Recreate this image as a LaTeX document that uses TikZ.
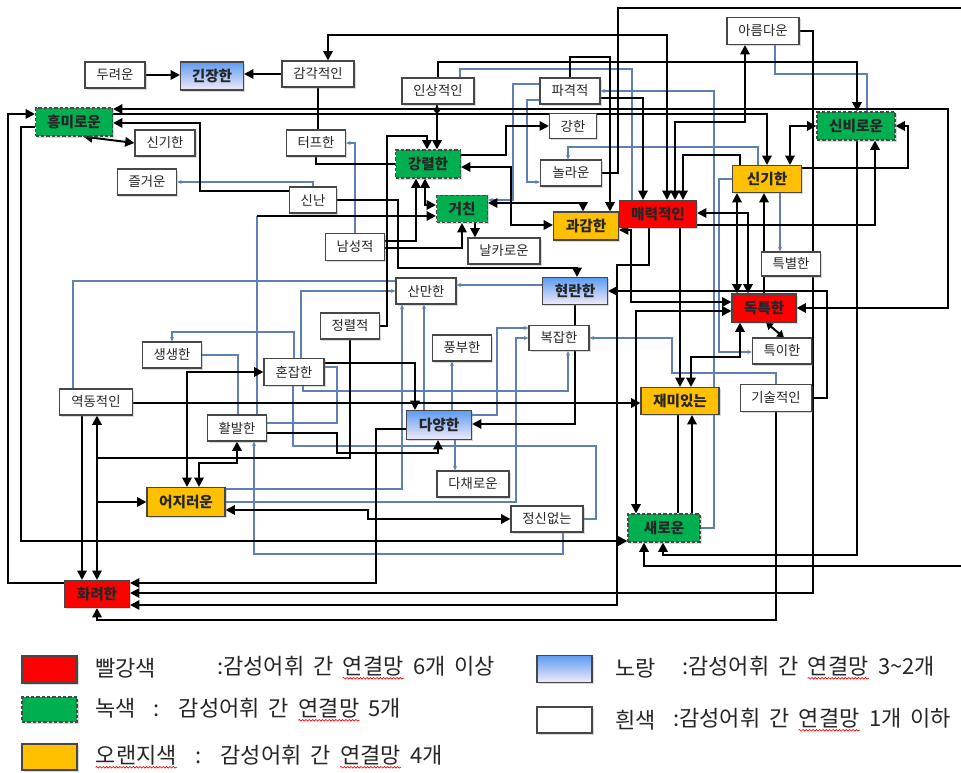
\documentclass[tikz,border=0pt]{standalone}
\usepackage{fontspec}
\setmainfont{Noto Sans CJK KR}
\newfontfamily\keyfont{Noto Sans CJK KR}[WordSpace=1.8]
\usetikzlibrary{arrows.meta,backgrounds,shadows,decorations.pathmorphing}
\definecolor{ink}{HTML}{262626}
\definecolor{hot}{HTML}{FF0000}
\definecolor{leaf}{HTML}{00B050}
\definecolor{amber}{HTML}{FFC000}
\definecolor{skytop}{HTML}{5C9CF2}
\definecolor{skybot}{HTML}{F3EAF8}
\definecolor{wire}{HTML}{5E80B4}
\tikzset{
  word/.style={
    draw=ink!85,
    line width=.8pt,
    minimum height=19.5pt,
    inner sep=1pt,
    text=ink,
    drop shadow={shadow xshift=1.3pt,shadow yshift=-1.3pt,opacity=.3}
  },
  bw/.style={minimum width=#1*0.75pt},
  bh/.style={minimum height=#1*0.75pt},
  plainword/.style={word,fill=white,font=\fontsize{10}{11}\selectfont},
  hotword/.style={word,fill=hot,font=\fontsize{11}{12}\selectfont\bfseries},
  leafword/.style={word,fill=leaf,dash pattern=on 2.5pt off 1.5pt,font=\fontsize{11}{12}\selectfont\bfseries},
  amberword/.style={word,fill=amber,font=\fontsize{11}{12}\selectfont\bfseries},
  skyword/.style={word,top color=skytop,bottom color=skybot,font=\fontsize{11}{12}\selectfont\bfseries},
  link/.style={line width=1.5pt,draw=black},
  forward/.style={link,-{Triangle[length=7pt,width=7pt]}},
  twoway/.style={link,{Triangle[length=7pt,width=7pt]}-{Triangle[length=7pt,width=7pt]}},
  twowayshort/.style={link,{Triangle[length=5pt,width=6pt]}-{Triangle[length=5pt,width=6pt]}},
  faint/.style={line width=.9pt,draw=wire},
  faintfwd/.style={faint,-{Stealth[length=3.5pt,width=3pt]}},
  joint/.style={circle,fill=black,inner sep=0pt,minimum size=4.5pt},
  keytext/.style={anchor=west,font=\keyfont\fontsize{16.5}{18}\selectfont,text=ink,inner sep=0pt}
}
\newcommand\typo[1]{\tikz[baseline=(typoword.base)]{\node[inner sep=0pt] (typoword) {#1};
  \draw[red,line width=.5pt,decorate,decoration={snake,amplitude=.6pt,segment length=2.5pt}]
    ([yshift=-2.5pt]typoword.base west) -- ([yshift=-2.5pt]typoword.base east);}}

\begin{document}
\begin{tikzpicture}[x=0.75pt,y=-0.75pt]
  \useasboundingbox (0,0) rectangle (961,773);

  \node[plainword,bw=60] (dooryeo) at (115,75) {두려운};
  \node[skyword,bw=63,bh=28] (ginjang) at (212,76) {긴장한};
  \node[plainword,bw=72] (gamgak) at (318,74) {감각적인};
  \node[plainword,bw=72] (insang) at (438,91) {인상적인};
  \node[plainword,bw=60] (pagyeok) at (570,91) {파격적};
  \node[plainword,bw=72,bh=27] (areum) at (763,31) {아름다운};
  \node[leafword,bw=77,bh=28] (heungmi) at (74,122) {흥미로운};
  \node[plainword,bw=60] (singiw) at (165,143) {신기한};
  \node[plainword,bw=59] (teopeu) at (316,143) {터프한};
  \node[plainword,bw=47,bh=25] (ganghan) at (573,126) {강한};
  \node[leafword,bw=78,bh=28] (sinbi) at (856,126) {신비로운};
  \node[leafword,bw=65,bh=28] (gangryeol) at (428,164) {강렬한};
  \node[plainword,bw=61] (nollaun) at (571,173) {놀라운};
  \node[amberword,bw=69,bh=27] (singi) at (767,179) {신기한};
  \node[plainword,bw=59] (jeulgeo) at (147,182) {즐거운};
  \node[plainword,bw=47] (sinnan) at (313,200) {신난};
  \node[leafword,bw=51,bh=27] (geochin) at (462,209) {거친};
  \node[amberword,bw=65,bh=28] (gwagam) at (586,226) {과감한};
  \node[hotword,bw=77,bh=27] (maeryeok) at (658,214) {매력적인};
  \node[plainword,bw=59,bh=27] (namseong) at (355,247) {남성적};
  \node[plainword,bw=72] (nalkaro) at (504,251) {날카로운};
  \node[plainword,bw=59,bh=24] (teukbyeol) at (791,264) {특별한};
  \node[plainword,bw=60] (sanman) at (426,291) {산만한};
  \node[skyword,bw=65,bh=27] (hyeonran) at (575,291) {현란한};
  \node[hotword,bw=64,bh=28] (doktuk) at (764,308) {독특한};
  \node[plainword,bw=59] (jeongryeol) at (350,326) {정렬적};
  \node[plainword,bw=60,bh=25] (bokjap) at (559,338) {복잡한};
  \node[plainword,bw=59] (pungbu) at (462,348) {풍부한};
  \node[plainword,bw=59] (teugi) at (782,351) {특이한};
  \node[plainword,bw=59] (saengsaeng) at (172,355) {생생한};
  \node[plainword,bw=60,bh=27] (honjap) at (294,372) {혼잡한};
  \node[plainword,bw=73] (yeokdong) at (96,402) {역동적인};
  \node[amberword,bw=78,bh=27] (jaemi) at (680,401) {재미있는};
  \node[plainword,bw=71,bh=27] (gisul) at (776,398) {기술적인};
  \node[plainword,bw=59] (hwalbal) at (237,428) {활발한};
  \node[skyword,bw=65,bh=29] (dayang) at (439,425) {다양한};
  \node[plainword,bw=72] (dachae) at (473,484) {다채로운};
  \node[amberword,bw=78,bh=29] (eojireo) at (186,502) {어지러운};
  \node[plainword,bw=72] (jeongsin) at (547,519) {정신없는};
  \node[leafword,bw=72,bh=28] (saeroun) at (664,528) {새로운};
  \node[hotword,bw=65,bh=27] (hwaryeo) at (97,594) {화려한};

  \node[joint] (knot) at (437,110) {};
  \coordinate (rimtop) at (961,8);
  \coordinate (rimlow) at (961,566);
  \coordinate (lift) at (257,216);

  % connectors stay under the boxes
  \begin{scope}[on background layer]
    \draw[faint] (insang.north -| 460,0) |- (632,69) -- (maeryeok.north -| 632,0);
    \draw[faintfwd] (pagyeok.west |- 0,84) -| (513,200) -- (geochin.east |- 0,200);
    \draw[faintfwd] (pagyeok.west |- 0,100) -| (527,182) -- (nollaun.west |- 0,182);
    \draw[faintfwd] (saeroun.east) -| (714,91) -- (pagyeok.east);
    \draw[faint] (areum.south -| 775,0) |- (867,74) -- (sinbi.north -| 867,0);
    \draw[faintfwd] (singi.north -| 758,0) |- (568,147) -- (nollaun.north -| 568,0);
    \draw[faintfwd] (singi.south -| 780,0) -- (teukbyeol.north -| 780,0);
    \draw[faintfwd] (singi.west) -| (719,352) -- (teugi.west |- 0,352);
    \draw[faintfwd] (gisul.north) |- (672,373) |- (bokjap.east);
    \draw[faintfwd] (hyeonran.west |- 0,285) -- (sanman.east |- 0,285);
    \draw[faintfwd] (honjap.north -| 301,0) |- (sanman.west);
    \draw[faint] (yeokdong.north -| 73,0) |- (sanman.west |- 0,281);
    \draw[faintfwd] (honjap.north -| 294,0) |- (172,332) -- (saengsaeng.north);
    \draw[faint] (saengsaeng.east) -| (hwalbal.north -| 238,0);
    \draw[faint] (hwalbal.east |- 0,423) -| (337,367) -- (honjap.east |- 0,367);
    \draw[faint] (honjap.south -| 293,0) |- (596,446) |- (jeongsin.east);
    \draw[faintfwd] (honjap.south -| 303,0) |- (568,391) -- (bokjap.south -| 568,0);
    \draw[faintfwd] (jeongsin.south -| 563,0) |- (254,554) -- (hwalbal.south -| 254,0);
    \draw[faintfwd] (eojireo.east |- 0,489) -| (sanman.south -| 402,0);
    \draw[faintfwd] (eojireo.east |- 0,502) -| (516,338) -- (bokjap.west);
    \draw[faintfwd] (dayang.east |- 0,415) -| (497,328) -- (bokjap.west |- 0,328);
    \draw[faintfwd] (dayang.north -| 424,0) -- (sanman.south -| 424,0);
    \draw[faintfwd] (dayang.north -| 452,0) -- (pungbu.south -| 452,0);
    \draw[faintfwd] (dayang.south -| 455,0) -- (dachae.north -| 455,0);
    \draw[faintfwd] (namseong.north) |- (teopeu.east);
    \draw[faintfwd] (sinnan.north) |- (jeulgeo.east);
    \draw[faint] (hwalbal.north -| 257,0) -- (lift);

    \draw[forward] (dooryeo.east) -- (dooryeo.east -| ginjang.west);
    \draw[forward] (gamgak.west) -- (gamgak.west -| ginjang.east);
    \draw[twoway] (maeryeok.north -| 667,0) |- (328,35) -- (gamgak.north -| 328,0);
    \draw[forward] (insang.north) |- (857,62) -- (sinbi.north -| 857,0);
    \draw[forward] (insang.south -| 437,0) -- (gangryeol.north -| 437,0);
    \draw[forward] (pagyeok.north) |- (610,57) -- (gwagam.north -| 610,0);
    \draw[forward] (pagyeok.east |- 0,98) -| (maeryeok.north -| 643,0);
    \draw[link] (nollaun.east) -| (618,8) -- (rimtop);
    \draw[forward] (rimlow) -| (saeroun.south -| 644,0);
    \draw[twoway] (maeryeok.north -| 675,0) |- (745,122) -- (areum.south -| 745,0);
    \draw[forward] (singi.north -| 740,0) |- (683,155) -- (maeryeok.north -| 683,0);
    \draw[twoway] (doktuk.east) -| (948,109) -- (heungmi.east |- 0,109);
    \draw[forward] (heungmi.east |- 0,114) -| (singi.north -| 767,0);
    \draw[forward] (hwaryeo.west |- 0,583) -| (8,114) -- (heungmi.west |- 0,114);
    \draw[forward] (heungmi.west |- 0,127) -| (21,541) -- (saeroun.west |- 0,541);
    \draw[twoway] (heungmi.south -| 83,0) -- (singiw.west);
    \draw[forward] (sinnan.west |- 0,191) -| (200,123) -- (heungmi.east |- 0,123);
    \draw[link] (gamgak.south) -- (gamgak.south |- teopeu.north);
    \draw[link] (teopeu.south) |- (gangryeol.west);
    \draw[forward] (sinnan.east) -| (398,268) -| (hyeonran.north -| 577,0);
    \draw[forward] (jeongryeol.east) -| (387,136) -| (gangryeol.north -| 427,0);
    \draw[forward] (gangryeol.east |- 0,155) -| (506,126) -- (ganghan.west);
    \draw[twoway] (gangryeol.east |- 0,167) -| (511,225) -- (gwagam.west |- 0,225);
    \draw[twoway] (gangryeol.south -| 425,0) |- (geochin.west |- 0,205);
    \draw[forward] (namseong.east |- 0,241) -| (gangryeol.south -| 416,0);
    \draw[forward] (namseong.east |- 0,248) -| (geochin.south -| 462,0);
    \draw[forward] (geochin.south -| 475,0) -- (nalkaro.north -| 475,0);
    \draw[twoway] (geochin.east |- 0,203) -| (gwagam.north -| 583,0);
    \draw[forward] (lift) -- (geochin.west |- 0,216);
    \draw[twoway] (maeryeok.east |- 0,213) -| (doktuk.north -| 748,0);
    \draw[twoway] (singi.south -| 737,0) -- (doktuk.north -| 737,0);
    \draw[forward] (doktuk.north -| 764,0) -- (singi.south -| 764,0);
    \draw[forward] (maeryeok.east |- 0,225) -| (sinbi.south -| 875,0);
    \draw[forward] (sinbi.south -| 857,0) |- (663,555) -- (saeroun.south -| 663,0);
    \draw[twoway] (singi.north -| 790,0) |- (sinbi.west);
    \draw[forward] (singi.east |- 0,168) -| (908,126) -- (sinbi.east);
    \draw[forward] (areum.east) -| (813,593) -- (hwaryeo.east |- 0,593);
    \draw[forward] (maeryeok.south -| 649,0) |- (617,265) |- (hwaryeo.east |- 0,605);
    \draw[forward] (dayang.west |- 0,429) -| (376,583) -- (hwaryeo.east |- 0,583);
    \draw[forward] (gisul.south) |- (97,620) -- (hwaryeo.south);
    \draw[forward] (yeokdong.south -| 82,0) -- (hwaryeo.north -| 82,0);
    \draw[forward] (jeongryeol.south) |- (97,458) -- (yeokdong.south -| 97,0);
    \draw[forward] (jeongryeol.south) |- (97,458) -- (hwaryeo.north -| 97,0);
    \draw[forward] (jeongryeol.south) |- (97,458) |- (eojireo.west);
    \draw[twoway] (eojireo.north -| 187,0) |- (honjap.west);
    \draw[twoway] (eojireo.north -| 199,0) |- (237,463) -- (hwalbal.south);
    \draw[twoway] (eojireo.east |- 0,510) -| (368,519) -- (jeongsin.west);
    \draw[forward] (yeokdong.east |- 0,403) -- (jaemi.west |- 0,403);
    \draw[forward] (honjap.east |- 0,363) -| (dayang.north -| 415,0);
    \draw[forward] (hwalbal.east |- 0,433) -| (337,453) -| (dayang.south -| 438,0);
    \draw[forward] (hyeonran.south) |- (dayang.east |- 0,424);
    \draw[forward] (gisul.east) -| (827,291) -- (hyeonran.east);
    \draw[forward] (maeryeok.south -| 680,0) -- (jaemi.north -| 680,0);
    \draw[twoway] (doktuk.south -| 740,0) |- (691,357) -- (jaemi.north -| 691,0);
    \draw[twowayshort] (doktuk.south -| 766,0) -- (teugi.north -| 784,0);
    \draw[twoway] (gwagam.east |- 0,230) -| (631,302) -- (doktuk.west |- 0,302);
    \draw[twoway] (doktuk.west |- 0,311) -| (saeroun.north -| 636,0);
    \draw[forward] (saeroun.north -| 692,0) -- (jaemi.south -| 692,0);
    \draw[link] (saeroun.north -| 678,0) -- (jaemi.south -| 678,0);
  \end{scope}

  \node[hotword,bw=55,bh=27] (keyred) at (49.5,669.5) {};
  \node[keytext] (keyredname) at (95,668) {빨강색};
  \node[keytext] (keyredtext) at (217,668) {:감성어휘 간 \typo{연결망} 6개 이상};
  \node[leafword,bw=55,bh=25] (keygreen) at (49.5,709.5) {};
  \node[keytext] (keygreentext) at (95,710) {녹색 \ : \ 감성어휘 간 \typo{연결망} 5개};
  \node[amberword,bw=55,bh=26] (keyamber) at (49.5,757) {};
  \node[keytext] (keyambertext) at (95,757) {\typo{오랜지색} \ : \ 감성어휘 간 \typo{연결망} 4개};
  \node[skyword,bw=55,bh=27] (keysky) at (564.5,669) {};
  \node[keytext] (keyskyname) at (615,668) {노랑};
  \node[keytext] (keyskytext) at (682,668) {:감성어휘 간 \typo{연결망} 3\textasciitilde2개};
  \node[plainword,bw=55,bh=26] (keywhite) at (564.5,720) {};
  \node[keytext] (keywhitename) at (615,720) {흰색};
  \node[keytext] (keywhitetext) at (673,720) {:감성어휘 간 \typo{연결망} 1개 이하};
\end{tikzpicture}
\end{document}
